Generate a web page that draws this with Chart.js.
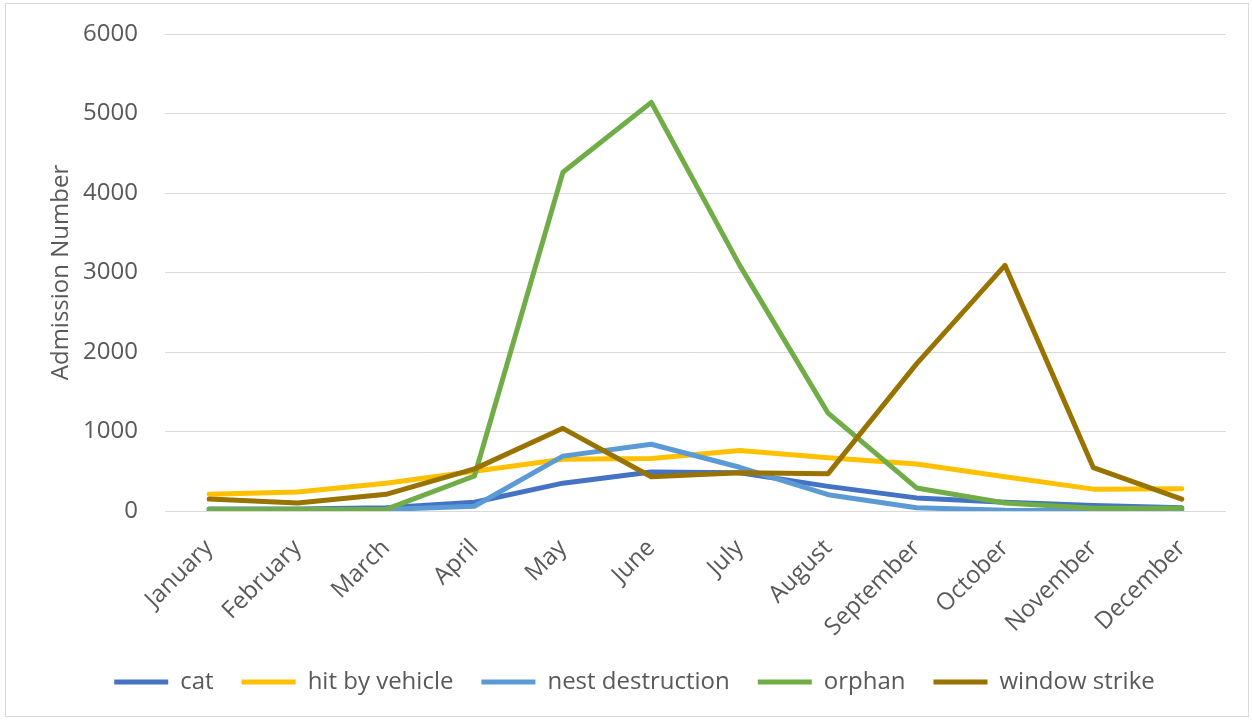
<!DOCTYPE html>
<html>
<head>
<meta charset="utf-8">
<script src="https://cdn.jsdelivr.net/npm/chart.js@4/dist/chart.umd.min.js"></script>
<style>
    html, body { margin: 0; padding: 0; background: #fff; }
    #frame {
        position: absolute;
        left: 5px; top: 3px;
        width: 1242px; height: 712px;
        border: 1px solid #d9d9d9;
    }
</style>
</head>
<body>
<div id="frame"><canvas id="admissionChart" width="1242" height="712"></canvas></div>
<script>
// monthly admissions by cause
const months = ['January', 'February', 'March', 'April', 'May', 'June',
    'July', 'August', 'September', 'October', 'November', 'December']

const cat = [25, 25, 40, 110, 350, 490, 480, 310, 165, 110, 70, 40]
const hitByVehicle = [210, 240, 350, 500, 650, 660, 760, 670, 590, 430, 275, 280]
const nestDestruction = [20, 20, 20, 60, 690, 840, 550, 205, 40, 10, 5, 5]
const orphan = [20, 20, 20, 440, 4260, 5140, 3090, 1230, 290, 100, 35, 35]
const windowStrike = [150, 100, 210, 530, 1040, 430, 480, 470, 1850, 3090, 545, 150]

const yTicks = [0, 1000, 2000, 3000, 4000, 5000, 6000]

const textColor = '#595959'
const fontFamily = "'Open Sans', sans-serif"
const fontSize = 24

function series(label, data, color, order) {
    return {
        label: label,
        data: data,
        borderColor: color,
        backgroundColor: color,
        borderWidth: 5,
        borderCapStyle: 'round',
        borderJoinStyle: 'round',
        pointRadius: 0,
        tension: 0,
        fill: false,
        order: order
    }
}

new Chart(document.getElementById('admissionChart'), {
    type: 'line',
    data: {
        labels: months,
        datasets: [
            series('cat', cat, '#4472C4', 5),
            series('hit by vehicle', hitByVehicle, '#FFC000', 4),
            series('nest destruction', nestDestruction, '#5B9BD5', 3),
            series('orphan', orphan, '#70AD47', 2),
            series('window strike', windowStrike, '#997300', 1)
        ]
    },
    options: {
        responsive: false,
        animation: false,
        layout: {
            padding: { left: 37, right: 22, top: 30, bottom: 12 }
        },
        scales: {
            x: {
                offset: true,
                grid: { display: false },
                border: { display: false },
                afterFit: scale => { scale.height = 131 },
                ticks: {
                    color: textColor,
                    font: { family: fontFamily, size: fontSize },
                    minRotation: 45,
                    maxRotation: 45,
                    padding: 15
                }
            },
            y: {
                min: 0,
                max: 6000,
                afterFit: scale => {
                    scale.width = 122
                    // the label gap is horizontal only, keep it out of the top/bottom space
                    scale.paddingTop = 0
                    scale.paddingBottom = 0
                },
                afterBuildTicks: scale => { scale.ticks = yTicks.map(v => ({ value: v })) },
                grid: { color: '#d9d9d9', lineWidth: 1, drawTicks: false },
                border: { display: false },
                ticks: {
                    color: textColor,
                    font: { family: fontFamily, size: fontSize },
                    padding: 27,
                    callback: value => String(value)
                },
                title: {
                    display: true,
                    text: 'Admission Number',
                    color: textColor,
                    font: { family: fontFamily, size: fontSize },
                    padding: { top: 4, bottom: 0 }
                }
            }
        },
        plugins: {
            tooltip: { enabled: false },
            legend: {
                position: 'bottom',
                labels: {
                    color: textColor,
                    font: { family: fontFamily, size: fontSize },
                    usePointStyle: true,
                    pointStyle: 'line',
                    pointStyleWidth: 54,
                    padding: 28,
                    sort: (a, b) => a.datasetIndex - b.datasetIndex
                }
            }
        }
    }
})
</script>
</body>
</html>
